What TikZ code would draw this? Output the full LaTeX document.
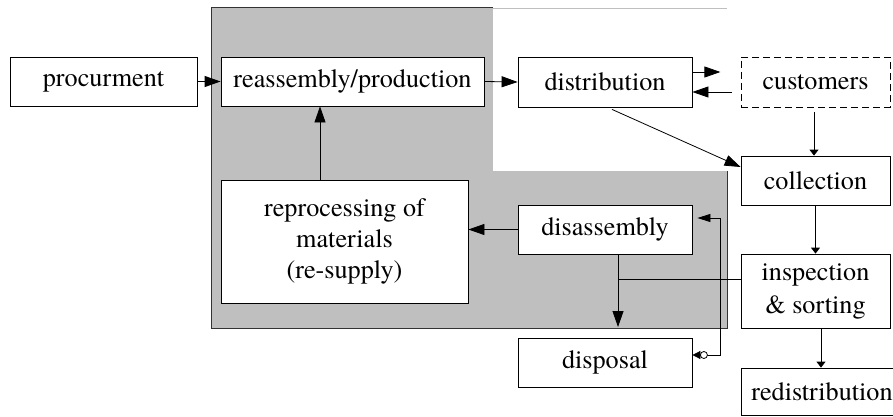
\documentclass[tikz,border=0pt]{standalone}
\usepackage{fontspec}
\setmainfont{TeX Gyre Termes}
\usetikzlibrary{arrows.meta,calc}
\begin{document}
\begin{tikzpicture}[x=1pt,y=-1pt,
  box/.style={draw, fill=white, line width=0.8pt, inner sep=0pt, align=center,
    font=\fontsize{26.2}{32}\selectfont},
  con/.style={line width=0.8pt},
  big/.style={con, -{Triangle[length=16pt,width=11pt]}},
  small/.style={con, -{Triangle[length=6pt,width=9pt]}}]
\useasboundingbox (0,0) rectangle (893,417);
% grey region
\fill[black!25] (211,8) rectangle (727,328);
\fill[white] (493,8) rectangle (727,171);
\draw[line width=1pt, black!80] (493,8) -- (211,8) -- (211,328) -- (727,328) -- (727,171);
\draw[line width=0.8pt, black!25] (493,8) -- (727,8);
% nodes
\node[box, minimum width=187pt, minimum height=49pt] (proc) at (103.5,81.5) {procurment};
\node[box, minimum width=263pt, minimum height=49pt] (reas) at (352.5,81.5) {reassembly/production};
\node[box, minimum width=174pt, minimum height=50pt] (dist) at (605,82) {distribution};
\node[box, dash pattern=on 7pt off 4pt, minimum width=149pt, minimum height=50pt] (cust) at (815.5,82) {customers};
\node[box, minimum width=149pt, minimum height=49pt] (coll) at (815.5,180.5) {collection};
\node[box, minimum width=174pt, minimum height=49pt] (disa) at (605,229.5) {disassembly};
\node[box, minimum width=149pt, minimum height=74pt, font=\fontsize{26.2}{33}\selectfont] (insp) at (815.5,291) {inspection\\\& sorting};
\node[box, minimum width=174pt, minimum height=49pt] (disp) at (605,362.5) {disposal};
\node[box, minimum width=162pt, minimum height=47pt] (redi) at (822,391.5) {redistribution};
\node[box, minimum width=247pt, minimum height=123pt, font=\fontsize{26.2}{31}\selectfont] (repr) at (344.5,241.5) {reprocessing of\\materials\\(re-supply)};
% connectors
\draw[big] (proc.east) -- (reas.west);
\draw[big] (reas.east) -- (dist.west);
\coordinate (dc) at ($(dist.east)+(28,-10)$);
\draw[big] ($(dist.east)+(0,-10)$) -- (dc);
\coordinate (cd) at ($(cust.west)+(-9,10)$);
\draw[big] (cd) -- (cd -| dist.east);
\draw[small] ($(cust.south)+(-1.5,5)$) -- ($(coll.north)+(-1.5,0)$);
\draw[big] ($(dist.south)+(7,2)$) -- ($(coll.west)+(0,-13.5)$);
\draw[small] (coll.south) -- (insp.north);
\coordinate (ir) at ($(insp.south)+(5.5,0)$);
\draw[small] (ir) -- (ir |- redi.north);
\draw[big] (disa.west) -- (disa.west -| repr.east);
\coordinate (rr) at ($(repr.north)+(-24.5,0)$);
\draw[big] (rr) -- (rr |- reas.south);
\coordinate (ds) at ($(disa.south)+(13,0)$);
\coordinate (dj) at (618,279);
\coordinate (de) at (618,327);
\draw[con] ($(insp.west)+(0,-12)$) -- (dj);
\draw[big] (ds) -- (de);
\coordinate (dp) at ($(disp.east)+(0,-7.5)$);
\coordinate (da) at ($(disa.east)+(5,-11.5)$);
\draw[con, {Triangle[length=8pt,width=8pt]}-{Triangle[length=13pt,width=8pt]}]
  (dp) -- (720,355) -- (720,218) -- (da);
\draw[con, fill=white] ($(dp)+(11.5,0)$) circle (3.5pt);
\end{tikzpicture}
\end{document}
